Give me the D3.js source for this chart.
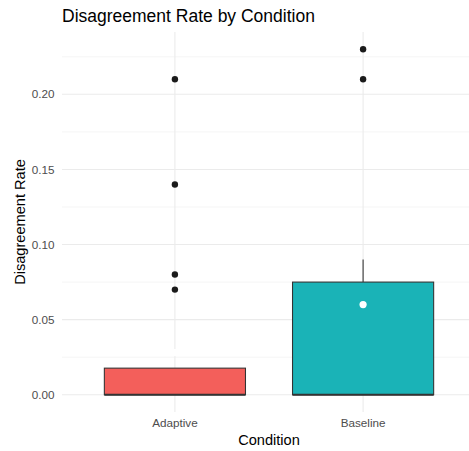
<!DOCTYPE html>
<html><head><meta charset="utf-8">
<script src="https://cdn.jsdelivr.net/npm/d3@7"></script>
<style>body{margin:0;background:#fff}svg{display:block;font-family:"Liberation Sans",Arial,Helvetica,sans-serif}</style>
</head><body>
<script>
const categories = ["Adaptive", "Baseline"];
const q1 = [0, 0];
const medians = [0, 0];
const q3 = [0.0177, 0.075];
const whiskerLow = [0, 0];
const whiskerHigh = [0.0177, 0.09];
const means = [0.028, 0.06];
const outliers = [[0.21, 0.14, 0.08, 0.07], [0.23, 0.21]];
const fills = ["#F35F5B", "#1AB3B7"];
const yTicks = [0, 0.05, 0.10, 0.15, 0.20];
const yMinor = [0.025, 0.075, 0.125, 0.175, 0.225];

(function () {
const W = 469, H = 451;
const svg = d3.select("body").append("svg").attr("width", W).attr("height", H);
const pL = 62, pR = 476, pT = 32, pB = 412;

const x = d3.scalePoint().domain(categories).range([pL, pR]).padding(0.6);
const y = d3.scaleLinear().domain([-0.0115, 0.2415]).range([pB, pT]);
const boxW = x.step() * 0.75;

const g = svg.append("g");
g.selectAll(".minor").data(yMinor).join("line")
  .attr("x1", pL).attr("x2", pR).attr("y1", d => y(d)).attr("y2", d => y(d))
  .attr("stroke", "#EBEBEB").attr("stroke-width", 0.55);
g.selectAll(".major").data(yTicks).join("line")
  .attr("x1", pL).attr("x2", pR).attr("y1", d => y(d)).attr("y2", d => y(d))
  .attr("stroke", "#EBEBEB").attr("stroke-width", 1.07);
g.selectAll(".vmajor").data(categories).join("line")
  .attr("x1", d => x(d)).attr("x2", d => x(d)).attr("y1", pT).attr("y2", pB)
  .attr("stroke", "#EBEBEB").attr("stroke-width", 1.07);

categories.forEach((c, i) => {
  const cx = x(c);
  if (whiskerHigh[i] > q3[i]) {
    g.append("line").attr("x1", cx).attr("x2", cx).attr("y1", y(q3[i])).attr("y2", y(whiskerHigh[i]))
      .attr("stroke", "#333333").attr("stroke-width", 1.07);
  }
  if (whiskerLow[i] < q1[i]) {
    g.append("line").attr("x1", cx).attr("x2", cx).attr("y1", y(q1[i])).attr("y2", y(whiskerLow[i]))
      .attr("stroke", "#333333").attr("stroke-width", 1.07);
  }
  g.append("rect").attr("x", cx - boxW / 2).attr("width", boxW)
    .attr("y", y(q3[i])).attr("height", y(q1[i]) - y(q3[i]))
    .attr("fill", fills[i]).attr("stroke", "#333333").attr("stroke-width", 1.07);
  g.append("line").attr("x1", cx - boxW / 2).attr("x2", cx + boxW / 2)
    .attr("y1", y(medians[i])).attr("y2", y(medians[i]))
    .attr("stroke", "#333333").attr("stroke-width", 2.2);
  g.selectAll(null).data(outliers[i]).join("circle")
    .attr("cx", cx).attr("cy", d => y(d)).attr("r", 3.2).attr("fill", "#1A1A1A");
  g.append("circle").attr("cx", cx).attr("cy", y(means[i])).attr("r", 3.6).attr("fill", "#FFFFFF");
});

svg.selectAll(".ylab").data(yTicks).join("text")
  .attr("x", 54.5).attr("y", d => y(d)).attr("dy", "0.35em").attr("text-anchor", "end")
  .attr("font-size", 11.7).attr("fill", "#4D4D4D").text(d => d3.format(".2f")(d));
svg.selectAll(".xlab").data(categories).join("text")
  .attr("x", d => x(d)).attr("y", 427).attr("text-anchor", "middle")
  .attr("font-size", 11.7).attr("fill", "#4D4D4D").text(d => d);
svg.append("text").attr("x", (pL + pR) / 2).attr("y", 445).attr("text-anchor", "middle")
  .attr("font-size", 14.6).attr("fill", "#000").text("Condition");
svg.append("text").attr("transform", `translate(24.5,${(pT + pB) / 2}) rotate(-90)`)
  .attr("text-anchor", "middle").attr("font-size", 14.6).attr("fill", "#000").text("Disagreement Rate");
svg.append("text").attr("x", pL).attr("y", 22).attr("font-size", 17.5).attr("fill", "#000")
  .text("Disagreement Rate by Condition");
})();
</script>
</body></html>
